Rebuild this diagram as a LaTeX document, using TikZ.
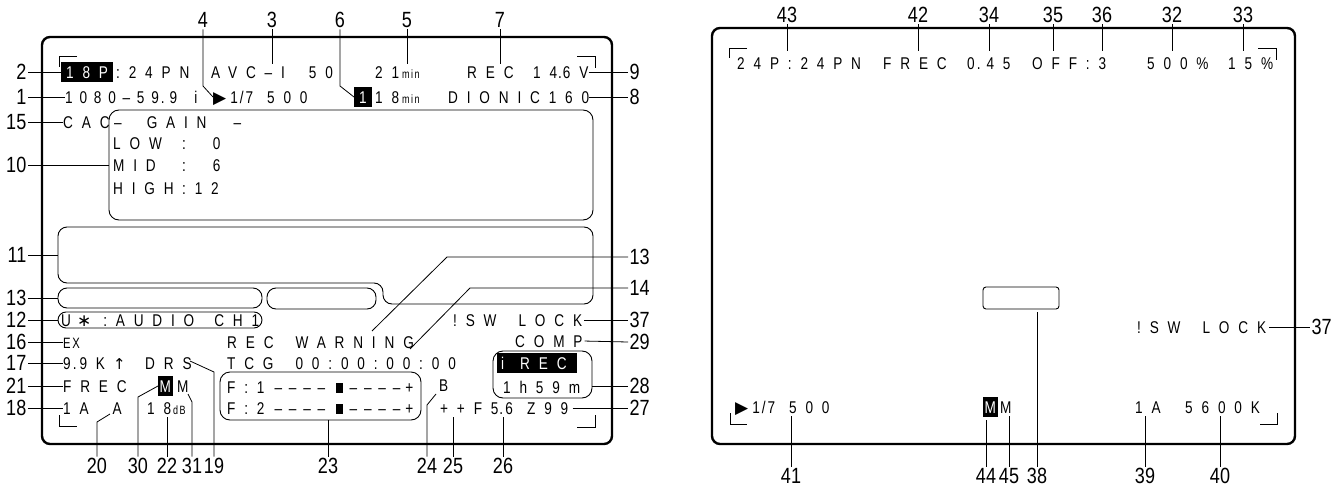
\documentclass[tikz,border=0pt]{standalone}
\usepackage{fontspec}
\setmainfont{Liberation Sans}
\newfontfamily\osdfont[FakeStretch=0.8,LetterSpace=52]{Liberation Sans}
\newfontfamily\osdnarrow[FakeStretch=0.8,LetterSpace=40]{Liberation Sans}
\newfontfamily\osdtight[FakeStretch=0.8]{Liberation Sans}
\newfontfamily\osdunit[FakeStretch=0.75,LetterSpace=12]{Liberation Sans}
\newfontfamily\calloutfont[FakeStretch=0.82]{Liberation Sans}
\newfontfamily\symfont{DejaVu Sans}
\usetikzlibrary{positioning,calc}
\newcommand{\un}[1]{{\osdunit\fontsize{12}{12}\selectfont #1}}
\newcommand{\playmark}{{\symfont\fontsize{17}{17}\selectfont ▶}}
\newcommand{\upmark}{{\symfont\fontsize{15}{15}\selectfont ↑}}
\newcommand{\astmark}{{\symfont\fontsize{17}{17}\selectfont ∗}}
\newcommand{\levelmark}{\rule{6.5pt}{10.5pt}}
\newcommand{\shutval}{\playmark\hspace{4pt}{\osdtight 1\kern2pt/\kern2pt7}\hspace{14pt}500}
\newcommand{\levelbar}[1]{F:#1\hspace{10pt}{\osdnarrow ––––}\hspace{11pt}\levelmark\hspace{7pt}{\osdnarrow ––––}\hspace{5pt}+}
\tikzset{
  osd/.style={font=\osdfont\fontsize{17}{17}\selectfont,inner sep=0pt,anchor=west,text height=12pt,text depth=0pt},
  osdhl/.style={osd,fill=black,text=white,inner xsep=1.5pt,inner ysep=4pt},
  callout/.style={font=\calloutfont\fontsize{22}{22}\selectfont,inner sep=1.5pt,text height=15.5pt,text depth=0pt},
  lead/.style={line width=0.8pt},
  screen/.style={line width=2.4pt,rounded corners=8pt},
  pane/.style={draw,line width=0.9pt,rounded corners=9pt,inner sep=0pt},
  corner/.style={line width=1pt},
}
\begin{document}
\begin{tikzpicture}[x=1pt,y=-1pt]
\useasboundingbox (0,0) rectangle (1343,487);

% left screen
\draw[screen] (42,37) rectangle (612,444);
\draw[corner] (77,57) -- (59,57) -- (59,67);
\draw[corner] (577,57) -- (595,57) -- (595,68);
\draw[corner] (59,415) -- (59,426) -- (77,426);
\draw[corner] (595,415) -- (595,427) -- (577,427);

\node[pane,rounded corners=10pt,minimum width=484pt,minimum height=110pt] (b10) at (351,165) {};
\draw[line width=0.9pt,rounded corners=9pt] (58,283) -- (58,227) -- (593,227) -- (593,304) -- (383,304) -- (383,283) -- cycle;
\coordinate (b11w) at (58,255);
\node[pane,minimum width=204pt,minimum height=20pt] (b13a) at (160,298) {};
\node[pane,minimum width=109pt,minimum height=21pt] (b13b) at (321.5,298.5) {};
\node[pane,rounded corners=8pt,minimum width=204pt,minimum height=16pt] (b12) at (160,320) {};
\node[pane,rounded corners=10pt,minimum width=201pt,minimum height=48pt] (b23) at (320.5,396) {};
\node[pane,rounded corners=10pt,minimum width=99pt,minimum height=47pt] (brec) at (542.5,374.5) {};

% rows
\node[osdhl,inner xsep=5pt] (t18p) at (61,72) {18P};
\node[osd] (t24pn) at (116,72) {:24PN};
\node[osd] (tavc) at (211,72) {AVC–I\hspace{24pt}50};
\node[osd] (t21) at (375,72) {21\hspace{3pt}\un{min}};
\node[osd] (trec) at (467,72) {REC};
\node[osd] (tvolt) at (533,72) {14\kern1pt.\kern1pt6V};

\node[osd,font=\osdnarrow\fontsize{17}{17}\selectfont] (t1080) at (65,97) {1080–59\kern2pt.\kern5pt9\hspace{17pt}i};
\node[osd] (tshut) at (213,97) {\shutval};
\node[osdhl,font=\osdtight\fontsize{17}{17}\selectfont,inner xsep=5pt] (tslot) at (354,97) {1};
\node[osd] (t18m) at (375,97) {18\hspace{3pt}\un{min}};
\node[osd] (tlens) at (448,97) {DIONIC160};

\node[osd] (tcac) at (63,122) {CAC};
\node[osd] (tgain) at (114,122) {–\hspace{25pt}GAIN\hspace{27pt}–};
\node[osd] (tlow) at (113,143) {\makebox[69pt][l]{LOW}:\hspace{27pt}0};
\node[osd] (tmid) at (113,165) {\makebox[69pt][l]{MID}:\hspace{27pt}6};
\node[osd] (thigh) at (113,188) {\makebox[69pt][l]{HIGH}:12};

\node[osd] (taudio) at (61,320) {U\hspace{6pt}\astmark\hspace{12pt}:AUDIO\hspace{20pt}CH1};
\node[osd] (tlock) at (453,320) {!SW\hspace{22pt}LOCK};
\node[osd,font=\osdunit\fontsize{15}{15}\selectfont] (tex) at (63,342) {EX};
\node[osd] (twarn) at (227,342) {REC\hspace{22pt}WARNING};
\node[osd] (tcomp) at (515,341) {COMP};
\node[osd] (tk) at (63,363) {9\kern2pt.\kern3pt9K\hspace{8pt}\upmark};
\node[osd] (tdrs) at (145,363) {DRS};
\node[osd] (ttcg) at (227,363) {TCG\hspace{22pt}00:00:00:00};
\node[osd] (tfrec) at (63,386) {FREC};
\node[osdhl,font=\osdtight\fontsize{17}{17}\selectfont] (tm1) at (158,386) {M};
\node[osd,font=\osdtight\fontsize{17}{17}\selectfont] (tm2) at (177,386) {M};
\node[osd] (tf1) at (227,387) {\levelbar{1}};
\node[osd] (tf2) at (227,408) {\levelbar{2}};
\node[osd] (tb) at (439,385) {B};
\node[osdhl,inner sep=0pt,minimum height=20pt] (tirec) at (497,363) {\makebox[80pt][l]{\hspace{4pt}{\osdtight i}\hspace{16pt}REC}};
\node[osd] (ttime) at (503,387) {1h59m};
\node[osd] (t1a) at (63,408) {1A\hspace{24pt}A};
\node[osd] (tdb) at (147,408) {18\hspace{2pt}\un{dB}};
\node[osd] (tf56) at (440,408) {++F5\kern1pt.\kern2pt6};
\node[osd] (tz) at (527,408) {Z99};

% left screen callouts
\foreach \n/\y in {2/72,1/97,15/122,10/165,11/255,13/298,12/320,16/342,17/363,21/386,18/408}
  \node[callout,anchor=east] (n\n) at (28,\y) {\n};
\foreach \n/\t in {2/t18p,1/t1080,15/tcac,10/b10,13/b13a,12/b12,16/tex,17/tk,21/tfrec,18/t1a}
  \draw[lead] (n\n.east) -- (n\n.east -| \t.west);
\draw[lead] (n11.east) -- (b11w);

\foreach \m/\n/\y in {9/9/72,8/8/97,13r/13/257,14/14/288,37/37/320,29/29/342,28/28/386,27/27/408}
  \node[callout,anchor=west] (n\m) at (628,\y) {\n};
\draw[lead] (tvolt.east) -- (n9.west);
\draw[lead] (tlens.east) -- (n8.west);
\coordinate (c13) at (372,331);
\coordinate (c14) at (410,349);
\draw[lead] (c13) -- (447,257) -- (n13r.west);
\draw[lead] (c14) -- (470,288) -- (n14.west);
\draw[lead,shorten <=2pt] (tlock.east) -- (n37.west);
\draw[lead,shorten <=2pt] (tcomp.east) -- (n29.west);
\draw[lead] (brec.east |- n28) -- (n28.west);
\draw[lead,shorten <=4pt] (tz.east) -- (n27.west);

\foreach \n/\x in {4/203,3/272,6/340,5/407,7/500}
  \node[callout] (n\n) at (\x,20) {\n};
\draw[lead] (n4) -- (203,86) -- (tshut.west);
\draw[lead] (n6) -- (340,86) -- (tslot.west);
\foreach \n/\t in {3/tavc,5/t21,7/trec}
  \draw[lead,shorten >=2pt] (n\n) -- (n\n |- \t.north);

\foreach \n/\x in {20/97,30/138,22/167,31/192,19/214,23/328,24/427,25/453,26/503}
  \node[callout] (n\n) at (\x,466) {\n};
\coordinate (c20) at (110,414);
\coordinate (c31) at (188,394);
\coordinate (c19) at (190,361);
\coordinate (c24) at (436,394);
\draw[lead] (n20) -- (97,422) -- (c20);
\draw[lead] (n30) -- (138,397) -- (tm1.west);
\draw[lead] (n31) -- (192,402) -- (c31);
\draw[lead] (n19) -- (214,372) -- (c19);
\draw[lead] (n24) -- (427,405) -- (c24);
\draw[lead] (n23) -- (n23 |- b23.south);
\foreach \n/\t in {22/tdb,25/tf56,26/tf56}
  \draw[lead,shorten >=3pt] (n\n) -- (n\n |- \t.south);

% right screen
\draw[screen] (712,28) rectangle (1295,444);
\draw[corner] (747,49) -- (729,49) -- (729,58);
\draw[corner] (1258,49) -- (1276,49) -- (1276,60);
\draw[corner] (730,413) -- (730,424) -- (747,424);
\draw[corner] (1277,413) -- (1277,424) -- (1260,424);
\node[pane,rounded corners=3pt,minimum width=76pt,minimum height=22pt] (b38) at (1021,298) {};

\node[osd] (tr24p) at (737,64) {24P:24PN};
\node[osd] (trfrec) at (883,64) {FREC};
\node[osd] (tr045) at (967,64) {0\kern2pt.\kern6pt45};
\node[osd] (troff) at (1032,64) {OFF:3};
\node[osd] (tr500) at (1147,64) {500\%};
\node[osd] (tr15) at (1228,64) {15\%};
\node[osd] (trlock) at (1137,327) {!SW\hspace{22pt}LOCK};
\node[osd] (trshut) at (735,407) {\shutval};
\node[osdhl,font=\osdtight\fontsize{17}{17}\selectfont] (trm1) at (983,407) {M};
\node[osd,font=\osdtight\fontsize{17}{17}\selectfont] (trm2) at (1000,407) {M};
\node[osd] (tr1a) at (1135,407) {1A};
\node[osd] (tr5600) at (1185,407) {5600K};

% right screen callouts
\foreach \n/\x/\t in {43/787/tr24p,42/918/trfrec,34/989/tr045,35/1053/troff,36/1102/troff,32/1172/tr500,33/1243/tr15}{
  \node[callout] (n\n) at (\x,15) {\n};
  \draw[lead,shorten >=7pt] (n\n) -- (n\n |- \t.north);
}
\foreach \n/\x/\t in {41/791/trshut,44/986/trm1,45/1009/trm2,39/1145/tr1a,40/1220/tr5600}{
  \node[callout] (n\n) at (\x,476) {\n};
  \draw[lead,shorten >=3pt] (n\n) -- (n\n |- \t.south);
}
\node[callout] (n38) at (1037,476) {38};
\draw[lead,shorten >=3pt] (n38) -- (n38 |- b38.south);
\node[callout,anchor=west] (n37r) at (1310,327) {37};
\draw[lead,shorten <=3pt] (trlock.east) -- (n37r.west);
\end{tikzpicture}
\end{document}
